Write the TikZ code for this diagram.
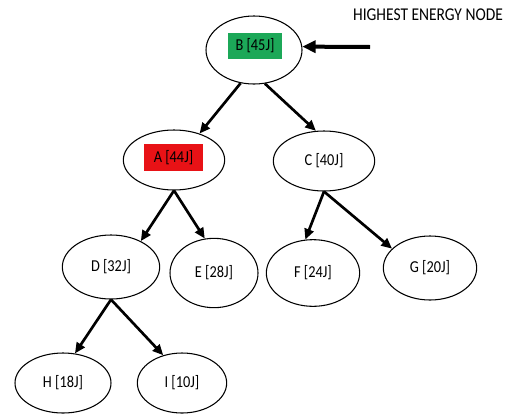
\documentclass[tikz,border=0pt]{standalone}
\usepackage{fontspec}
\setmainfont{Carlito}
\newfontfamily\lblfont{Carlito}[FakeStretch=0.86]
\usetikzlibrary{shapes.geometric,arrows.meta}
\definecolor{hgreen}{RGB}{28,168,88}
\definecolor{hred}{RGB}{232,18,22}
\begin{document}
\begin{tikzpicture}[x=0.75pt,y=-0.75pt,
  ell/.style={draw,ellipse,line width=0.8pt,inner sep=0pt,font=\lblfont\fontsize{12.5}{14}\selectfont},
  lbl/.style={inner sep=0pt,minimum height=20pt,font=\lblfont\fontsize{12.5}{14}\selectfont},
  edge/.style={line width=2pt,-{Triangle[length=8pt,width=7pt]}}]
\useasboundingbox (0,0) rectangle (516,418);
\node[ell,minimum width=72pt,minimum height=51pt] (B) at (254,50) {};
\node[lbl,fill=hgreen,minimum width=41pt] (Bl) at (255,46) {B [45J]};
\node[ell,minimum width=76pt,minimum height=45pt] (A) at (174,160) {};
\node[lbl,fill=hred,minimum width=44pt] (Al) at (173.5,157.5) {A [44J]};
\node[ell,minimum width=76pt,minimum height=45pt] (C) at (324,161) {C [40J]};
\node[ell,minimum width=73pt,minimum height=48pt] (D) at (111,267) {D [32J]};
\node[ell,minimum width=66pt,minimum height=52pt] (E) at (214,273) {E [28J]};
\node[ell,minimum width=70pt,minimum height=50pt] (F) at (313,273) {F [24J]};
\node[ell,minimum width=70pt,minimum height=48pt] (G) at (430,268) {G [20J]};
\node[ell,minimum width=72pt,minimum height=45pt] (H) at (63,383) {H [18J]};
\node[ell,minimum width=67pt,minimum height=45pt] (I) at (182,383) {I [10J]};
\node[inner sep=0pt,font=\lblfont\fontsize{13.5}{15}\selectfont] (T) at (428,15) {HIGHEST ENERGY NODE};
\coordinate (tail) at (370,47);
\draw[line width=3pt,-{Triangle[length=10pt,width=9pt]}] (tail) -- (B.4);
\draw[edge] (B.248) -- (A.46);
\draw[edge] (B.288) -- (C.105);
\draw[edge] (A.south) -- (D.41);
\draw[edge] (A.south) -- (E.105);
\draw[edge] (C.south) -- (F.103);
\draw[edge] (C.south) -- (G.153);
\draw[edge] (D.south) -- (H.68);
\draw[edge] (D.south) -- (I.124);
\end{tikzpicture}
\end{document}
